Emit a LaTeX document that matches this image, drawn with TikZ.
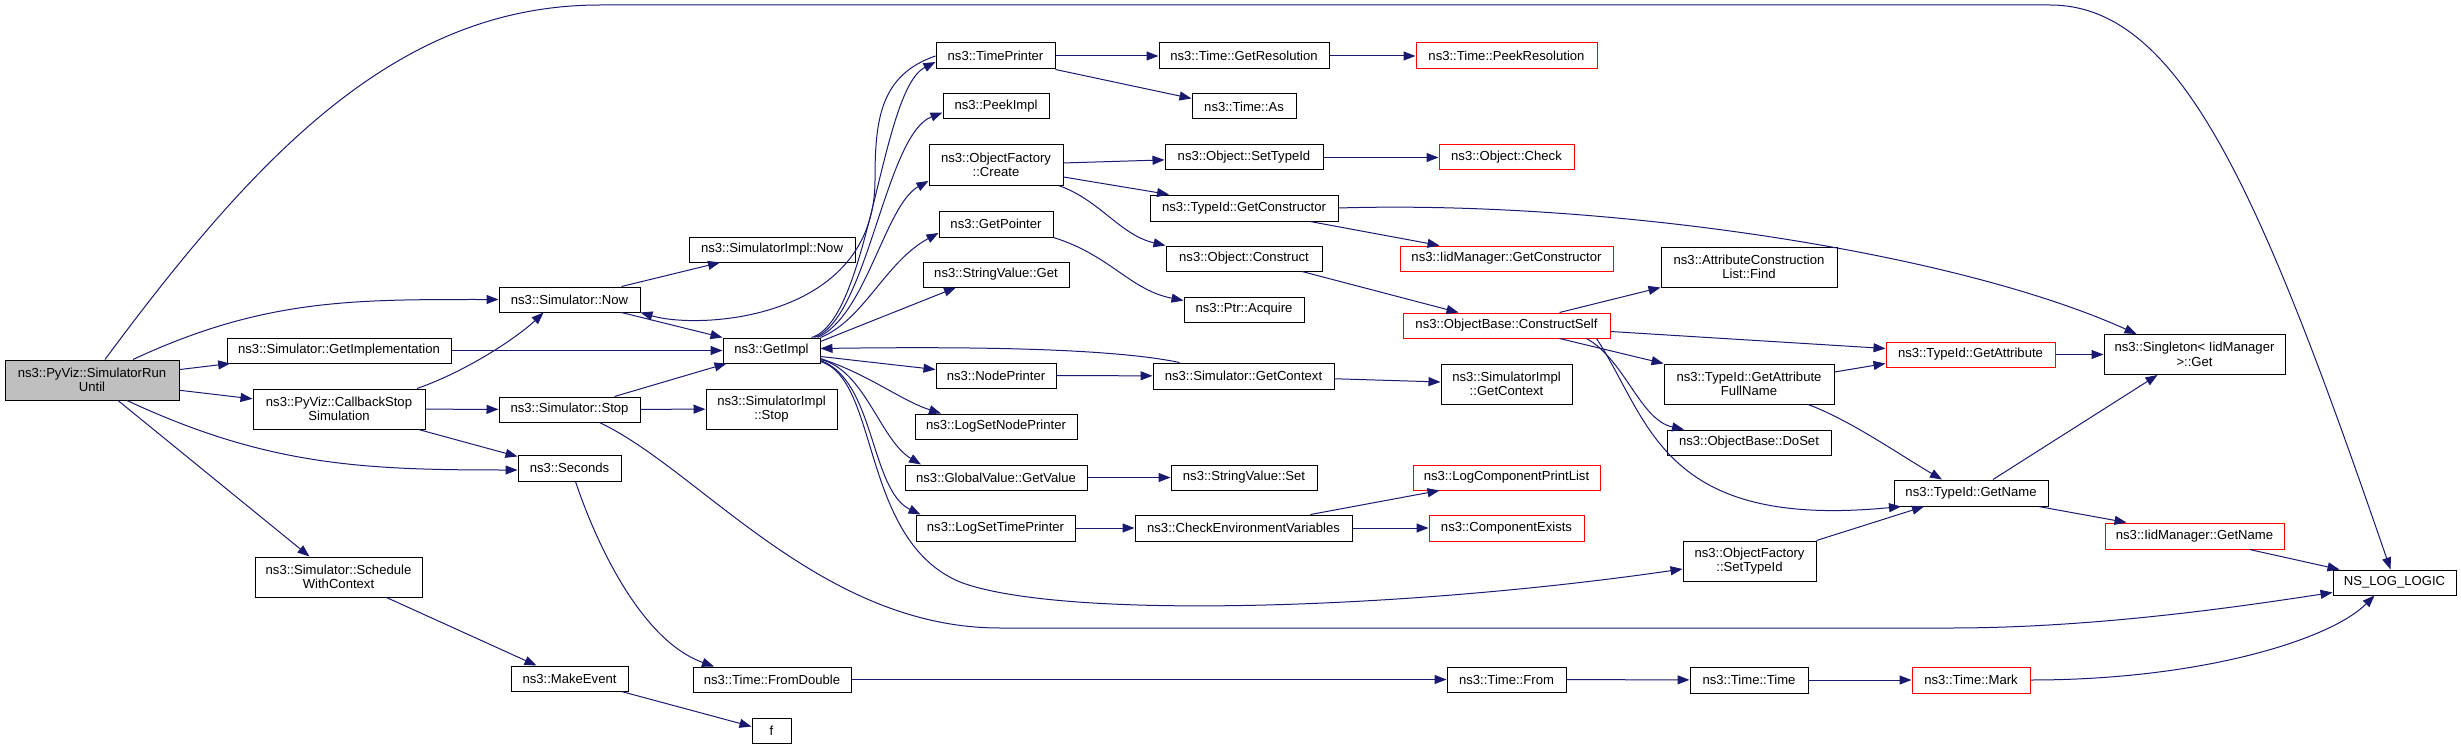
\documentclass[tikz,border=0pt]{standalone}
\usepackage{fontspec}
\setmainfont{Liberation Sans}
\usetikzlibrary{arrows.meta}
\definecolor{edgeblue}{HTML}{191970}
\definecolor{rootgray}{HTML}{BFBFBF}
\tikzset{
  fn/.style={draw=black, fill=white, line width=1pt, inner sep=0pt, align=center, font=\fontsize{13.1}{14.5}\selectfont},
  fnred/.style={fn, draw=red},
  fnroot/.style={fn, fill=rootgray},
  sz/.style 2 args={minimum width=#1pt, minimum height=#2pt},
  call/.style={draw=edgeblue, line width=1pt, -{Triangle[length=12pt,width=9pt]}},
}
\begin{document}
\begin{tikzpicture}[x=1pt,y=1pt]
                \useasboundingbox (0,0) rectangle (2461,-749);
                \node[fnroot, sz={174}{40}] (rununtil) at (92,-380) {ns3::PyViz::SimulatorRun\\Until};
                \node[fn, sz={224}{25}] (getimplementation) at (339,-350.5) {ns3::Simulator::GetImplementation};
                \node[fn, sz={172}{40}] (callbackstop) at (339,-409) {ns3::PyViz::CallbackStop\\Simulation};
                \node[fn, sz={167}{40}] (schedule) at (338.5,-577) {ns3::Simulator::Schedule\\WithContext};
                \node[fn, sz={141}{25}] (simnow) at (569.5,-299.5) {ns3::Simulator::Now};
                \node[fn, sz={141}{25}] (simstop) at (569.5,-409.5) {ns3::Simulator::Stop};
                \node[fn, sz={103}{26}] (seconds) at (569.5,-468) {ns3::Seconds};
                \node[fn, sz={117}{25}] (makeevent) at (569.5,-678.5) {ns3::MakeEvent};
                \node[fn, sz={166}{25}] (implnow) at (772,-249.5) {ns3::SimulatorImpl::Now};
                \node[fn, sz={97}{25}] (getimpl) at (771.5,-350.5) {ns3::GetImpl};
                \node[fn, sz={131}{40}] (implstop) at (771.5,-409) {ns3::SimulatorImpl\\::Stop};
                \node[fn, sz={158}{25}] (fromdouble) at (772,-679.5) {ns3::Time::FromDouble};
                \node[fn, sz={39}{25}] (f) at (771.5,-730.5) {f};
                \node[fn, sz={119}{26}] (timeprinter) at (995.5,-56) {ns3::TimePrinter};
                \node[fn, sz={106}{25}] (peekimpl) at (996,-106.5) {ns3::PeekImpl};
                \node[fn, sz={134}{40}] (ofcreate) at (996,-165) {ns3::ObjectFactory\\::Create};
                \node[fn, sz={114}{26}] (getpointer) at (996,-224) {ns3::GetPointer};
                \node[fn, sz={146}{25}] (svget) at (996,-274.5) {ns3::StringValue::Get};
                \node[fn, sz={120}{25}] (nodeprinter) at (996,-375.5) {ns3::NodePrinter};
                \node[fn, sz={162}{25}] (logsetnode) at (996,-426.5) {ns3::LogSetNodePrinter};
                \node[fn, sz={182}{25}] (gvgetvalue) at (996,-477.5) {ns3::GlobalValue::GetValue};
                \node[fn, sz={159}{26}] (logsettime) at (995.5,-528) {ns3::LogSetTimePrinter};
                \node[fn, sz={170}{26}] (getres) at (1244,-56) {ns3::Time::GetResolution};
                \node[fn, sz={104}{25}] (timeas) at (1244,-106.5) {ns3::Time::As};
                \node[fn, sz={158}{25}] (objsettype) at (1244,-157.5) {ns3::Object::SetTypeId};
                \node[fn, sz={188}{26}] (getctor) at (1244,-208) {ns3::TypeId::GetConstructor};
                \node[fn, sz={156}{25}] (objconstruct) at (1244,-258.5) {ns3::Object::Construct};
                \node[fn, sz={120}{25}] (ptracquire) at (1244,-309.5) {ns3::Ptr::Acquire};
                \node[fn, sz={181}{26}] (simgetctx) at (1243.5,-376) {ns3::Simulator::GetContext};
                \node[fn, sz={146}{25}] (svset) at (1244,-477.5) {ns3::StringValue::Set};
                \node[fn, sz={217}{26}] (checkenv) at (1243.5,-528) {ns3::CheckEnvironmentVariables};
                \node[fnred, sz={181}{26}] (peekres) at (1506.5,-56) {ns3::Time::PeekResolution};
                \node[fnred, sz={135}{25}] (objcheck) at (1506.5,-157.5) {ns3::Object::Check};
                \node[fnred, sz={213}{25}] (iidgetctor) at (1506.5,-258.5) {ns3::IidManager::GetConstructor};
                \node[fnred, sz={207}{25}] (constructself) at (1506.5,-325.5) {ns3::ObjectBase::ConstructSelf};
                \node[fn, sz={131}{40}] (implgetctx) at (1506.5,-384) {ns3::SimulatorImpl\\::GetContext};
                \node[fnred, sz={187}{25}] (logprintlist) at (1506.5,-477.5) {ns3::LogComponentPrintList};
                \node[fnred, sz={155}{26}] (compexists) at (1506.5,-528) {ns3::ComponentExists};
                \node[fn, sz={119}{25}] (timefrom) at (1506.5,-679.5) {ns3::Time::From};
                \node[fn, sz={176}{40}] (attrfind) at (1749,-267) {ns3::AttributeConstruction\\List::Find};
                \node[fn, sz={170}{40}] (attrfull) at (1749,-384) {ns3::TypeId::GetAttribute\\FullName};
                \node[fn, sz={164}{25}] (doset) at (1749,-442.5) {ns3::ObjectBase::DoSet};
                \node[fn, sz={133}{40}] (ofsettype) at (1749.5,-561) {ns3::ObjectFactory\\::SetTypeId};
                \node[fn, sz={118}{26}] (timetime) at (1749,-680) {ns3::Time::Time};
                \node[fnred, sz={169}{25}] (getattr) at (1970.5,-354.5) {ns3::TypeId::GetAttribute};
                \node[fn, sz={154}{26}] (getname) at (1971,-493) {ns3::TypeId::GetName};
                \node[fnred, sz={118}{26}] (timemark) at (1971,-680) {ns3::Time::Mark};
                \node[fn, sz={181}{40}] (singleton) at (2194.5,-354.5) {ns3::Singleton< IidManager\\>::Get};
                \node[fnred, sz={179}{26}] (iidgetname) at (2194.5,-536) {ns3::IidManager::GetName};
                \node[fn, sz={123}{25}] (nslog) at (2394.5,-582.5) {NS\_LOG\_LOGIC};

                \draw[call] ([xshift=13pt]rununtil.north) .. controls (260,-150) and (400,-5) .. (600,-5) -- (2050,-5) .. controls (2180,-5) and (2260,-190) .. ([xshift=-4pt]nslog.north);
                \draw[call] ([xshift=41pt]rununtil.north) to[out=25,in=180] (simnow.west);
                \draw[call] (rununtil) -- (getimplementation);
                \draw[call] (rununtil) -- (callbackstop);
                \draw[call] ([xshift=35pt]rununtil.south) to[out=-25,in=180] ([yshift=-2pt]seconds.west);
                \draw[call] ([xshift=26pt]rununtil.south) -- ([xshift=-29pt]schedule.north);
                \draw[call] (getimplementation) -- (getimpl);
                \draw[call] ([xshift=78pt]callbackstop.north) .. controls (470,-370) and (520,-335) .. ([xshift=-26pt]simnow.south);
                \draw[call] (callbackstop) -- (simstop);
                \draw[call] ([xshift=-7pt]callbackstop.south east) -- ([yshift=-2pt]seconds.north west);
                \draw[call] ([xshift=52pt]simnow.north) -- ([xshift=-52pt]implnow.south);
                \draw[call] ([xshift=52pt]simnow.south) -- (getimpl.north west);
                \draw[call] ([xshift=45pt]simstop.north) -- ([xshift=-45pt]getimpl.south);
                \draw[call] (simstop) -- (implstop);
                \draw[call] ([xshift=30pt]simstop.south) .. controls (700,-470) and (820,-628) .. (1000,-628) -- (1950,-628) .. controls (2100,-628) and (2250,-605) .. ([yshift=-10pt]nslog.west);
                \draw[call] ([xshift=6pt]seconds.south) .. controls (595,-540) and (640,-640) .. ([xshift=-58pt]fromdouble.north);
                \draw[call] ([xshift=48pt]schedule.south) -- ([xshift=-33pt]makeevent.north);
                \draw[call] ([xshift=-7pt]makeevent.south east) -- ([yshift=4pt]f.west);
                \draw[call] (fromdouble) -- (timefrom);
                \draw[call] (timefrom) -- (timetime);
                \draw[call] (timetime) -- (timemark);
                \draw[call] (timemark.east) .. controls (2200,-680) and (2330,-640) .. ([xshift=-20pt]nslog.south);

                \draw[call] ([xshift=-9pt]getimpl.north east) .. controls (870,-320) and (880,-90) .. ([yshift=-6pt]timeprinter.west);
                \draw[call] ([xshift=-6pt]getimpl.north east) .. controls (868,-318) and (885,-135) .. ([yshift=-6pt]peekimpl.west);
                \draw[call] ([xshift=-3pt]getimpl.north east) .. controls (866,-316) and (885,-205) .. ([yshift=-16pt]ofcreate.west);
                \draw[call] (getimpl.north east) .. controls (864,-320) and (885,-262) .. ([yshift=-9pt]getpointer.west);
                \draw[call] ([yshift=9pt]getimpl.east) -- ([xshift=-40pt]svget.south);
                \draw[call] ([yshift=-6pt]getimpl.east) -- ([yshift=6pt]nodeprinter.west);
                \draw[call] ([yshift=-8pt]getimpl.east) .. controls (870,-375) and (900,-400) .. ([xshift=-55pt]logsetnode.north);
                \draw[call] ([yshift=-9pt]getimpl.east) .. controls (865,-370) and (880,-440) .. ([xshift=-75pt]gvgetvalue.north);
                \draw[call] ([yshift=-10pt]getimpl.east) .. controls (875,-380) and (870,-490) .. ([xshift=-75pt]logsettime.north);
                \draw[call] ([yshift=-11pt]getimpl.east) .. controls (880,-380) and (860,-540) .. (960,-582) .. controls (1060,-620) and (1400,-610) .. ([yshift=-8pt]ofsettype.west);
                \draw[call] (timeprinter.west) .. controls (880,-75) and (875,-120) .. (875,-180) .. controls (875,-320) and (700,-330) .. (simnow.south east);

                \draw[call] (timeprinter) -- (getres);
                \draw[call] (timeprinter.south east) -- ([yshift=8pt]timeas.west);
                \draw[call] (getres) -- (peekres);
                \draw[call] (ofcreate) -- (objsettype);
                \draw[call] ([yshift=-12pt]ofcreate.east) -- ([xshift=-75pt]getctor.north);
                \draw[call] ([xshift=-5pt]ofcreate.south east) .. controls (1100,-200) and (1120,-235) .. (objconstruct.north west);
                \draw[call] (objsettype) -- (objcheck);
                \draw[call] ([xshift=66pt]getctor.south) -- ([xshift=-67pt]iidgetctor.north);
                \draw[call] (getctor.east) .. controls (1600,-200) and (1950,-250) .. ([xshift=-58pt]singleton.north);
                \draw[call] ([xshift=58pt]objconstruct.south) -- ([xshift=-48pt]constructself.north);
                \draw[call] (getpointer.south east) .. controls (1110,-255) and (1130,-290) .. ([yshift=9pt]ptracquire.west);
                \draw[call] (nodeprinter) -- (simgetctx);
                \draw[call] ([xshift=-64pt]simgetctx.north) .. controls (1120,-350) and (1000,-346) .. ([yshift=2pt]getimpl.east);
                \draw[call] (simgetctx) -- (implgetctx);
                \draw[call] (gvgetvalue) -- (svset);
                \draw[call] (logsettime) -- (checkenv);
                \draw[call] ([xshift=67pt]checkenv.north) -- ([xshift=-67pt]logprintlist.south);
                \draw[call] (checkenv) -- (compexists);

                \draw[call] ([xshift=53pt]constructself.north) -- (attrfind.south west);
                \draw[call] ([yshift=-6pt]constructself.east) -- ([yshift=6pt]getattr.west);
                \draw[call] ([xshift=53pt]constructself.south) -- (attrfull.north west);
                \draw[call] ([xshift=80pt]constructself.south) .. controls (1625,-360) and (1640,-420) .. ([xshift=-65pt]doset.north);
                \draw[call] ([xshift=90pt]constructself.south) .. controls (1650,-420) and (1660,-530) .. ([xshift=-70pt]getname.south);
                \draw[call] ([yshift=12pt]attrfull.east) -- ([yshift=-9pt]getattr.west);
                \draw[call] ([xshift=59pt]attrfull.south) .. controls (1850,-420) and (1900,-455) .. ([xshift=-29pt]getname.north);
                \draw[call] (getattr) -- (singleton);
                \draw[call] ([xshift=22pt]getname.north) -- ([xshift=-37pt]singleton.south);
                \draw[call] ([xshift=-10pt]getname.south east) -- ([xshift=-68pt]iidgetname.north);
                \draw[call] ([xshift=55pt]iidgetname.south) -- ([xshift=-55pt]nslog.north);
                \draw[call] (ofsettype.north east) -- ([xshift=-47pt]getname.south);
            \end{tikzpicture}
\end{document}
